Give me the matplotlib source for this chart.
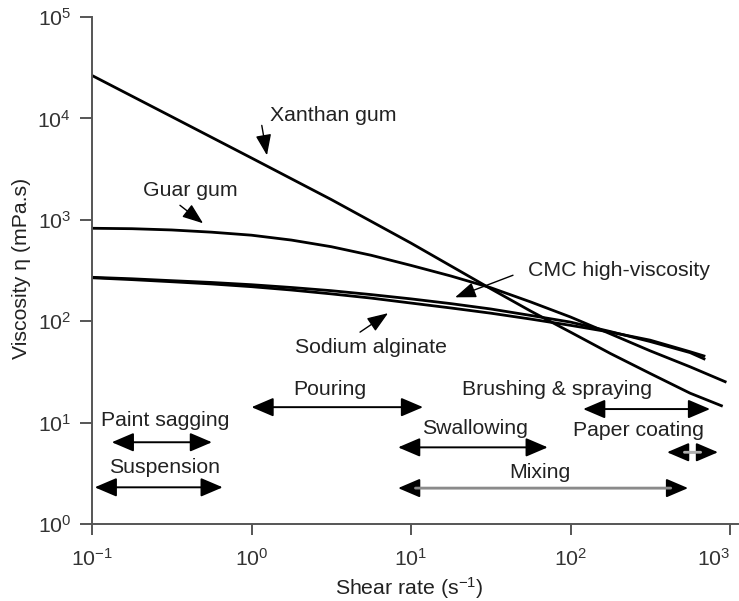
import matplotlib
matplotlib.use("Agg")
import matplotlib.pyplot as plt

plt.rcParams['font.family'] = ['Liberation Sans', 'DejaVu Sans']
plt.rcParams['mathtext.default'] = 'regular'

# ---- data ----
xanthan_x = [0.1, 0.316, 1, 3.16, 10, 31.6, 56.2, 100, 178, 316, 562, 900]
xanthan_y = [26500, 10400, 4070, 1585, 589, 209, 126, 78, 48, 30.5, 19.5, 14.5]

guar_x = [0.1, 0.178, 0.316, 0.562, 1, 1.78, 3.16, 5.62, 10, 17.8, 31.6,
          56.2, 100, 178, 316, 562, 950]
guar_y = [825, 817, 794, 755, 705, 631, 543, 447, 355, 279, 214,
          155, 110, 75, 51, 35.5, 25]

cmc_x = [0.1, 0.178, 0.316, 0.562, 1, 1.78, 3.16, 5.62, 10, 17.8, 31.6,
         56.2, 100, 178, 316, 562, 700]
cmc_y = [271, 262, 251, 241, 229, 215, 200, 183, 166, 149, 132,
         114, 98, 79, 63, 49, 42]

alginate_x = [0.1, 0.178, 0.316, 0.562, 1, 1.78, 3.16, 5.62, 10, 17.8, 31.6,
              56.2, 100, 178, 316, 562, 700]
alginate_y = [268, 257, 245, 233, 219, 203, 186, 169, 151, 135, 120,
              105, 91, 78, 65, 50, 45]

# process ranges: name, shear-rate start/end, arrow level, label x, label y
range_names = ["Paint sagging", "Suspension", "Pouring", "Swallowing",
               "Mixing", "Brushing & spraying", "Paper coating"]
range_start = [0.133, 0.104, 1.0, 8.3, 8.3, 120, 403]
range_end = [0.565, 0.66, 11.9, 72, 546, 750, 841]
range_level = [6.4, 2.3, 14.2, 5.7, 2.26, 13.6, 5.1]
range_label_x = [0.287, 0.287, 3.1, 25.2, 64, 82, 265]
range_label_y = [10.6, 3.6, 21, 8.8, 3.2, 21, 8.4]
range_shaft = ["black", "black", "black", "black", "#8a8a8a", "black", "#b0b0b0"]

# curve labels: text, text position, arrow tail, arrow head
curve_labels = ["Xanthan gum", "Guar gum", "CMC high-viscosity", "Sodium alginate"]
label_pos = [(1.31, 10700), (0.209, 1950), (54, 318), (1.87, 55.5)]
arrow_tail = [(1.16, 8530), (0.356, 1390), (43.6, 284), (4.79, 78)]
arrow_head = [(1.25, 4320), (0.497, 924), (18.9, 172), (7.18, 120)]

xticks = [0.1, 1, 10, 100, 1000]
yticks = [1, 10, 100, 1000, 10000, 100000]

# ---- figure ----
W, H = 739, 601
fig = plt.figure(figsize=(W / 100, H / 100), dpi=100)
left_px, bottom_px, right_px, top_px = 92, 524, 738, 17
ax = fig.add_axes([left_px / W, (H - bottom_px) / H,
                   (right_px - left_px) / W, (bottom_px - top_px) / H])
ax.set_xscale('log')
ax.set_yscale('log')
ax.set_xlim(0.1, 10 ** (646 / 159.5 - 1))
ax.set_ylim(1, 1e5)

lw = 2.0
for xs, ys in [(xanthan_x, xanthan_y), (guar_x, guar_y), (cmc_x, cmc_y), (alginate_x, alginate_y)]:
    ax.plot(xs, ys, color='black', lw=lw, solid_capstyle='butt', solid_joinstyle='round')

fs = 15.3
hl, hw, ms = 0.75, 0.32, 18
for name, x0, x1, yl, lx, ly, c in zip(range_names, range_start, range_end, range_level,
                                       range_label_x, range_label_y, range_shaft):
    ax.annotate('', xy=(x1, yl), xytext=(x0, yl),
                arrowprops=dict(arrowstyle=f'<|-|>,head_length={hl},head_width={hw}',
                                color='black', lw=1.4, shrinkA=0, shrinkB=0,
                                mutation_scale=ms))
    if c != 'black':
        ax.annotate('', xy=(x1, yl), xytext=(x0, yl),
                    arrowprops=dict(arrowstyle='-', color=c, lw=2.0,
                                    shrinkA=hl * ms - 1, shrinkB=hl * ms - 1))
    ax.text(lx, ly, name, ha='center', va='center', fontsize=fs, color='#222222')

for name, (tx, ty), (ax0, ay0), (hx, hy) in zip(curve_labels, label_pos, arrow_tail, arrow_head):
    ax.text(tx, ty, name, ha='left', va='center', fontsize=fs, color='#222222')
    ax.annotate('', xy=(hx, hy), xytext=(ax0, ay0),
                arrowprops=dict(arrowstyle='-|>,head_length=0.8,head_width=0.3',
                                color='black', lw=1.0, shrinkA=0, shrinkB=0,
                                mutation_scale=16))

for s in ['top', 'right']:
    ax.spines[s].set_visible(False)
for s in ['left', 'bottom']:
    ax.spines[s].set_color('#555555')
    ax.spines[s].set_linewidth(1.4)

ax.set_xticks(xticks)
ax.set_yticks(yticks)
ax.minorticks_off()
ax.tick_params(axis='both', colors='#555555', labelcolor='#333333', labelsize=fs,
               width=1.4)
ax.tick_params(axis='y', length=9, pad=6)
ax.tick_params(axis='x', length=8, pad=9)
ax.xaxis.get_major_ticks()[-1].label1.set_horizontalalignment('right')

ax.set_xlabel('Shear rate (s$^{-1}$)', fontsize=fs, color='#222222', va='center')
ax.xaxis.set_label_coords((409 - left_px) / 646, (bottom_px - 588) / 507)
ax.set_ylabel('Viscosity η (mPa.s)', fontsize=fs, color='#222222', va='center')
ax.yaxis.set_label_coords((22 - left_px) / 646, (bottom_px - 268) / 507)

fig.savefig('out.png', dpi=100)
